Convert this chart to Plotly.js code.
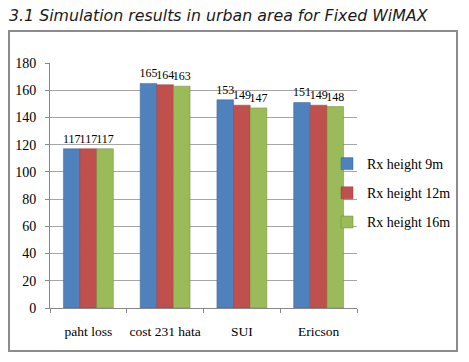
<!DOCTYPE html>
<html>
<head>
<meta charset="utf-8">
<script src="https://cdn.plot.ly/plotly-3.0.1.min.js"></script>
<style>html,body{margin:0;padding:0;background:#fff;}#chart{width:469px;height:362px;}</style>
</head>
<body>
<div id="chart"></div>
<script>
const categories = ["paht loss", "cost 231 hata", "SUI", "Ericson"];
const seriesNames = ["Rx height 9m", "Rx height 12m", "Rx height 16m"];
const rx9 = [117, 165, 153, 151];
const rx12 = [117, 164, 149, 149];
const rx16 = [117, 163, 147, 148];
const yTicks = [0, 20, 40, 60, 80, 100, 120, 140, 160, 180];

const colors = ["#4f81bd", "#c0504d", "#9bbb59"];
const lineColors = ["#3a6496", "#9a3b38", "#6f8a3a"];
const values = [rx9, rx12, rx16];
const serif = "Liberation Serif";

const traces = values.map((v, i) => ({
  type: "bar",
  name: seriesNames[i],
  x: categories,
  y: v,
  text: v.map(String),
  textposition: "outside",
  constraintext: "none",
  cliponaxis: false,
  textfont: {family: serif, size: 12, color: "#000"},
  marker: {color: colors[i], line: {color: lineColors[i], width: 0.5}},
  legendgroup: "g" + i,
  hoverinfo: "skip"
}));

const L = 50, R = 357, T = 63, B = 308;
const px = x => (x - L) / (R - L);
const py = y => (B - y) / (B - T);

const layout = {
  width: 469, height: 362,
  margin: {l: L, r: 469 - R, t: T, b: 362 - B, pad: 0},
  paper_bgcolor: "#fff",
  plot_bgcolor: "#fff",
  font: {family: serif, size: 14, color: "#000"},
  title: {
    text: "3.1 Simulation results in urban area for Fixed WiMAX",
    font: {family: "DejaVu Sans", size: 15.8, style: "italic", color: "#1a1a1a"},
    x: 9 / 469, xref: "container", xanchor: "left",
    y: 1 - 15 / 362, yref: "container", yanchor: "middle"
  },
  barmode: "group",
  bargap: 0.35,
  bargroupgap: 0,
  showlegend: true,
  legend: {
    x: px(327), xanchor: "left",
    y: py(148), yanchor: "top",
    bgcolor: "rgba(0,0,0,0)",
    font: {family: serif, size: 14, color: "#000"},
    traceorder: "grouped",
    tracegroupgap: 8
  },
  xaxis: {
    type: "category",
    tickmode: "array",
    tickvals: categories,
    ticktext: categories,
    tickson: "boundaries",
    tickangle: 0,
    ticks: "outside",
    ticklen: 4,
    tickcolor: "#888",
    showline: true,
    linecolor: "#888",
    linewidth: 1,
    showgrid: false,
    tickfont: {family: serif, size: 13.5, color: "#000"},
    ticklabelstandoff: 11
  },
  yaxis: {
    range: [0, 180],
    tickmode: "array",
    tickvals: yTicks,
    ticktext: yTicks.map(String),
    ticks: "outside",
    ticklen: 4,
    tickcolor: "#888",
    showline: true,
    linecolor: "#888",
    linewidth: 1,
    showgrid: true,
    gridcolor: "#a6a6a6",
    gridwidth: 1,
    zeroline: false,
    tickfont: {family: serif, size: 14, color: "#000"},
    ticklabelstandoff: 6
  },
  shapes: [{
    type: "rect", xref: "paper", yref: "paper",
    x0: px(9), x1: px(457), y0: py(351), y1: py(31),
    line: {color: "#8c8c8c", width: 2},
    fillcolor: "rgba(0,0,0,0)",
    layer: "below"
  }]
};

Plotly.newPlot("chart", traces, layout, {displayModeBar: false, staticPlot: true});
</script>
</body>
</html>
